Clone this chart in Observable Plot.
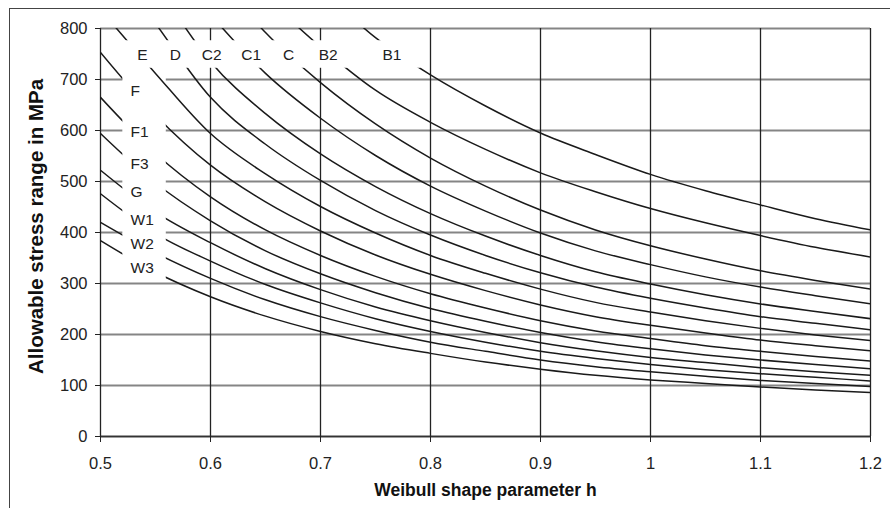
<!DOCTYPE html>
<html><head><meta charset="utf-8">
<script src="https://cdn.jsdelivr.net/npm/d3@7"></script>
<script src="https://cdn.jsdelivr.net/npm/@observablehq/plot@0.6"></script>
<style>
body{margin:0;background:#fff;}
#wrap{position:relative;width:890px;height:508px;overflow:hidden;background:#fff;}
#chart{position:absolute;left:0;top:0;}
#border{position:absolute;left:9px;top:8px;width:1000px;height:1000px;border-left:1px solid #444;border-top:1px solid #444;z-index:2;pointer-events:none;}
</style></head><body>
<div id="wrap"><div id="chart"></div><div id="border"></div></div>
<script>
// Weibull shape parameter values (x)
const hGrid = [0.5, 0.55, 0.6, 0.65, 0.7, 0.75, 0.8, 0.85, 0.9, 0.95, 1.0, 1.05, 1.1, 1.15, 1.2];
// Allowable stress range in MPa per S-N curve (null = above chart)
const B1 = [null, null, null, null, 879, 782, 709, 648, 595, 553, 514, 482, 454, 427, 405];
const B2 = [null, null, null, 862, 764, 679, 616, 563, 517, 480, 447, 419, 394, 371, 352];
const C  = [null, null, 919, 792, 694, 613, 546, 491, 444, 405, 374, 348, 325, 306, 289];
const C1 = [null, null, 827, 712, 624, 551, 491, 442, 399, 364, 337, 313, 293, 276, 260];
const C2 = [null, 890, 735, 633, 554, 490, 437, 393, 355, 323, 299, 278, 260, 245, 231];
const D  = [960, 810, 665, 573, 502, 443, 395, 355, 321, 293, 271, 252, 235, 222, 209];
const E  = [837, 712, 594, 515, 451, 399, 355, 320, 289, 263, 244, 227, 212, 199, 188];
const F  = [753, 630, 532, 460, 403, 356, 318, 286, 258, 235, 218, 203, 189, 178, 168];
const F1 = [665, 555, 470, 405, 355, 314, 280, 252, 227, 207, 192, 178, 167, 157, 148];
const F3 = [594, 497, 423, 364, 319, 282, 251, 226, 204, 186, 172, 160, 150, 141, 133];
const G  = [522, 440, 380, 329, 288, 254, 227, 204, 184, 168, 155, 145, 135, 127, 120];
const W1 = [476, 398, 344, 298, 262, 231, 206, 185, 167, 153, 141, 131, 123, 116, 109];
const W2 = [420, 360, 310, 268, 235, 208, 185, 167, 150, 137, 127, 118, 110, 104,  98];
const W3 = [384, 322, 274, 236, 206, 182, 163, 146, 132, 120, 111, 104,  97,  91,  86];

const upperNames = ["B1", "B2", "C", "C1", "C2", "D", "E"];
const upperSeries = [B1, B2, C, C1, C2, D, E];
const lowerNames = ["F", "F1", "F3", "G", "W1", "W2", "W3"];
const lowerSeries = [F, F1, F3, G, W1, W2, W3];

// Curve labels
const topLabelNames = ["E", "D", "C2", "C1", "C", "B2", "B1"];
const topLabelH = [0.538, 0.568, 0.601, 0.637, 0.671, 0.707, 0.765];
const topLabelStress = 747;
const leftLabelNames = ["F", "F1", "F3", "G", "W1", "W2", "W3"];
const leftLabelStress = [678, 597, 535, 479, 424, 378, 331];
const leftLabelH = 0.5273;

// Axis ticks
const xTicks = [0.5, 0.6, 0.7, 0.8, 0.9, 1.0, 1.1, 1.2];
const yTicks = [0, 100, 200, 300, 400, 500, 600, 700, 800];

function toRows(names, series) {
  const rows = [];
  names.forEach((name, i) => series[i].forEach((v, j) => rows.push({name, h: hGrid[j], v})));
  return rows;
}
const upperRows = toRows(upperNames, upperSeries);
const lowerRows = toRows(lowerNames, lowerSeries);

// white label areas (derived from label positions)
const topMask = [{
  x1: d3.min(topLabelH) - 0.0155, x2: d3.max(topLabelH) + 0.0265,
  y1: topLabelStress - 25, y2: topLabelStress + 29
}];
const leftMask = [{
  x1: leftLabelH - 0.007, x2: leftLabelH + 0.0325,
  y1: d3.min(leftLabelStress) - 25, y2: d3.max(leftLabelStress) + 98
}];

const lineStyle = {x: "h", y: "v", z: "name", curve: "monotone-x", stroke: "#1a1a1a", strokeWidth: 1.5, clip: true};

const chart = Plot.plot({
  width: 890, height: 508,
  marginLeft: 100, marginRight: 20, marginTop: 28, marginBottom: 72,
  style: {fontFamily: "'Liberation Sans', Arial, sans-serif", fontSize: "16px", color: "#222", background: "transparent"},
  x: {domain: [0.5, 1.2]},
  y: {domain: [0, 800]},
  marks: [
    Plot.gridY(yTicks, {stroke: "#858585", strokeOpacity: 1, strokeWidth: 2}),
    Plot.gridX(xTicks, {stroke: "#222", strokeOpacity: 1, strokeWidth: 1.3}),
    Plot.ruleY([0], {stroke: "#333", strokeWidth: 1.5}),
    Plot.axisX(xTicks, {tickSize: 6, tickPadding: 15, tickFormat: d => String(+d.toFixed(1)), label: null, fontSize: 16.5, stroke: "#222", fill: "#222"}),
    Plot.axisY(yTicks, {tickSize: 5, tickPadding: 8, label: null, fontSize: 16.5, stroke: "#222", fill: "#222"}),
    Plot.line(lowerRows, lineStyle),
    Plot.rect(leftMask, {x1: "x1", x2: "x2", y1: "y1", y2: "y2", fill: "white"}),
    Plot.line(upperRows, lineStyle),
    Plot.rect(topMask, {x1: "x1", x2: "x2", y1: "y1", y2: "y2", fill: "white"}),
    Plot.text(topLabelNames, {x: (d, i) => topLabelH[i], y: () => topLabelStress, text: d => d, fontSize: 15.5, fill: "#222"}),
    Plot.text(leftLabelNames, {x: () => leftLabelH, y: (d, i) => leftLabelStress[i], text: d => d, fontSize: 15.5, fill: "#222", textAnchor: "start"}),
    Plot.text(["Weibull shape parameter h"], {frameAnchor: "bottom", dy: 59, fontWeight: "bold", fontSize: 17.5, fill: "#111"}),
    Plot.text(["Allowable stress range in MPa"], {frameAnchor: "left", dx: -64, dy: -6, rotate: -90, textAnchor: "middle", fontWeight: "bold", fontSize: 20.5, fill: "#111"})
  ]
});
document.getElementById("chart").appendChild(chart);
</script>
</body></html>
